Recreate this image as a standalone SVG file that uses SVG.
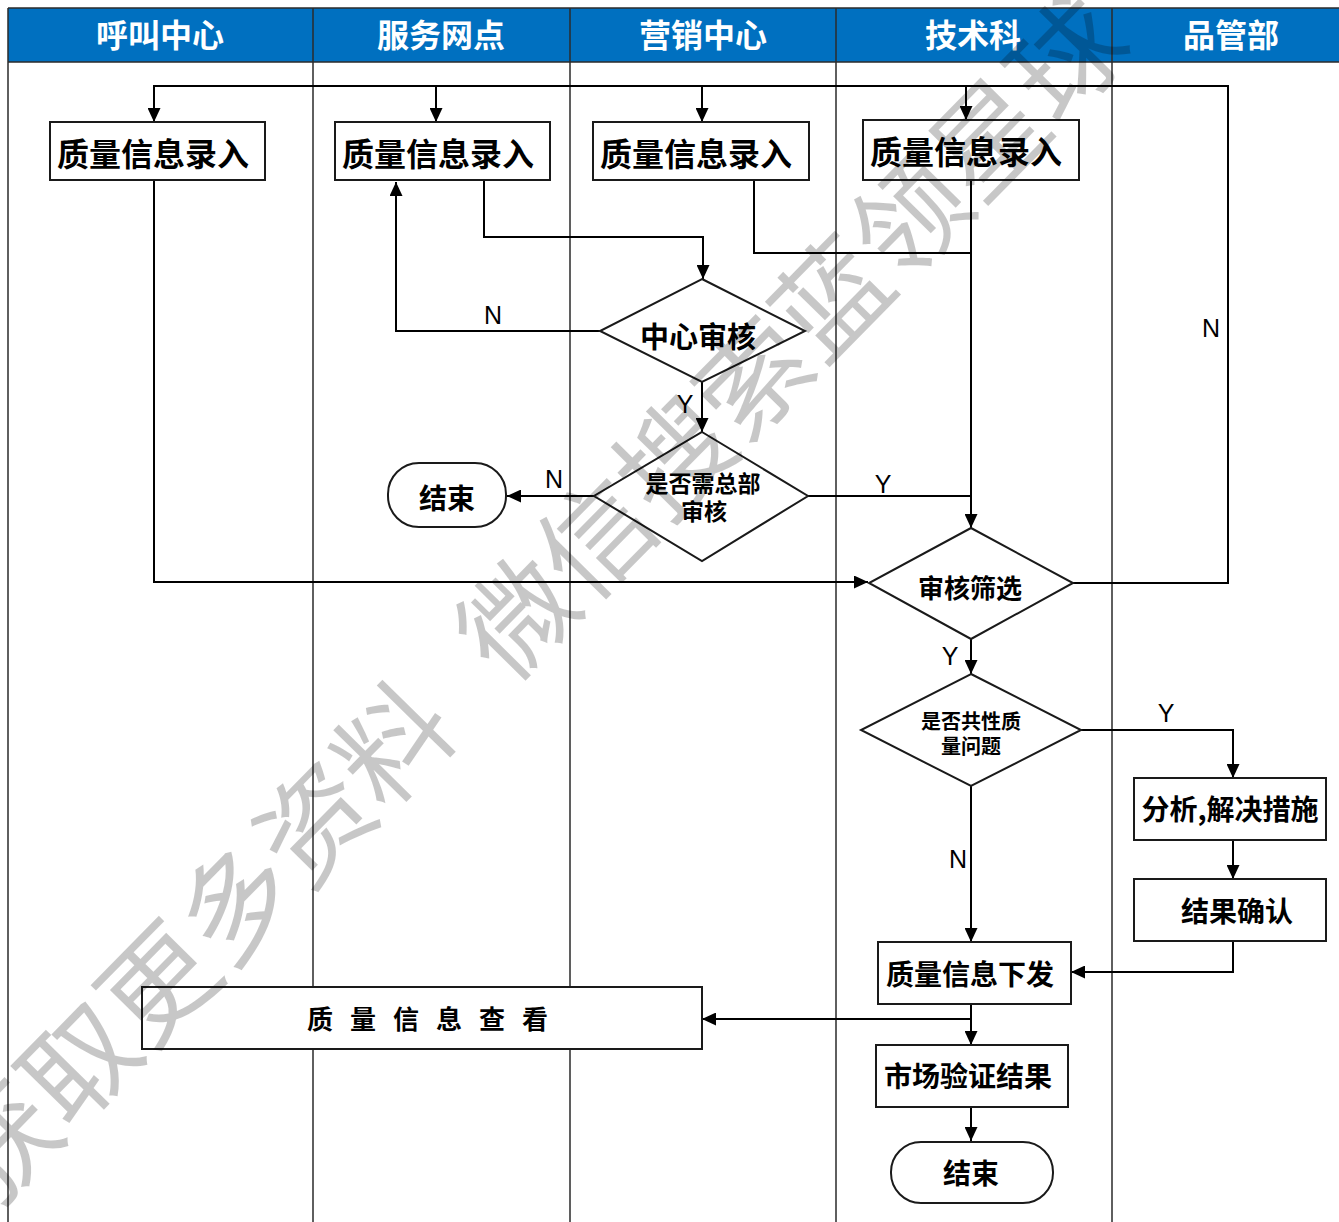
<svg xmlns="http://www.w3.org/2000/svg" width="1339" height="1222" viewBox="0 0 1339 1222">
<defs>
<style>
.lane{stroke:#2b2b2b;stroke-width:1.5;fill:none}
.hdr{fill:#0070C0}
.htxt{font-family:"Noto Sans CJK SC","Noto Sans",sans-serif;font-weight:bold;font-size:32px;fill:#fff;text-anchor:middle}
.box{fill:#fff;stroke:#1a1a1a;stroke-width:2}
.t{font-family:"Noto Sans CJK SC","Noto Sans",sans-serif;font-weight:bold;fill:#000;text-anchor:middle;dominant-baseline:central}
.c{fill:none;stroke:#000;stroke-width:2}
.ca{fill:none;stroke:#000;stroke-width:2;marker-end:url(#arr)}
.lbl{font-family:"Liberation Sans",Arial,sans-serif;font-size:25px;fill:#000;text-anchor:middle}
.wm{font-family:"Noto Sans CJK SC",sans-serif;font-size:112px;font-weight:400;fill:#000;fill-opacity:0.22}
</style>
<marker id="arr" viewBox="0 0 14 13" refX="14" refY="6.5" markerWidth="14" markerHeight="13" orient="auto" markerUnits="userSpaceOnUse"><path d="M0,0 L14,6.5 L0,13 z" fill="#000"/></marker>
</defs>
<rect width="1339" height="1222" fill="#fff"/>
<g id="lanes">
<rect class="hdr" x="8" y="8" width="1331" height="54"/>
<path class="lane" d="M8,8 H1339 M8,62 H1339 M8,8 V1222 M313,8 V1222 M570,8 V1222 M836,8 V1222 M1112,8 V1222"/>
<text class="htxt" x="160" y="47">呼叫中心</text>
<text class="htxt" x="441" y="47">服务网点</text>
<text class="htxt" x="703" y="47">营销中心</text>
<text class="htxt" x="973" y="47">技术科</text>
<text class="htxt" x="1231" y="47">品管部</text>
</g>
<g id="connectors">
<path class="ca" d="M1073,583 H1228 V86 H154 V122"/>
<path class="ca" d="M436,86 V122"/>
<path class="ca" d="M702,86 V122"/>
<path class="ca" d="M966,86 V120"/>
<path class="ca" d="M154,180 V582 H868"/>
<path class="ca" d="M484,180 V237 H703 V279"/>
<path class="c" d="M754,180 V253 H971"/>
<path class="ca" d="M971,180 V528"/>
<path class="ca" d="M600,331 H396 V182"/>
<path class="ca" d="M702,382 V432"/>
<path class="ca" d="M594,496 H507"/>
<path class="c" d="M808,496 H971"/>
<path class="ca" d="M971,639 V674"/>
<path class="ca" d="M1081,730 H1233 V778"/>
<path class="ca" d="M971,786 V942"/>
<path class="ca" d="M1233,840 V879"/>
<path class="ca" d="M1233,941 V972 H1071"/>
<path class="ca" d="M971,1004 V1045"/>
<path class="ca" d="M971,1019 H702"/>
<path class="ca" d="M971,1107 V1141"/>
<text class="lbl" x="493" y="324">N</text>
<text class="lbl" x="685" y="413">Y</text>
<text class="lbl" x="554" y="488">N</text>
<text class="lbl" x="883" y="493">Y</text>
<text class="lbl" x="1211" y="337">N</text>
<text class="lbl" x="950" y="665">Y</text>
<text class="lbl" x="1166" y="722">Y</text>
<text class="lbl" x="958" y="868">N</text>
</g>
<g id="n_input1"><rect class="box" x="50" y="122" width="215" height="58"/><text class="t" x="153" y="152" font-size="32">质量信息录入</text></g>
<g id="n_input2"><rect class="box" x="335" y="122" width="215" height="58"/><text class="t" x="438" y="152" font-size="32">质量信息录入</text></g>
<g id="n_input3"><rect class="box" x="593" y="122" width="216" height="58"/><text class="t" x="696" y="152" font-size="32">质量信息录入</text></g>
<g id="n_input4"><rect class="box" x="863" y="120" width="216" height="60"/><text class="t" x="966" y="150" font-size="32">质量信息录入</text></g>
<g id="n_center_review"><polygon class="box" points="702,279 805,331 702,382 600,331"/><text class="t" x="698" y="335" font-size="29">中心审核</text></g>
<g id="n_hq_review"><polygon class="box" points="702,432 808,496 702,561 594,496"/><text class="t" x="703" y="482" font-size="23">是否需总部</text><text class="t" x="704" y="510" font-size="23">审核</text></g>
<g id="n_end1"><rect class="box" x="388" y="463" width="118" height="64" rx="31" ry="31"/><text class="t" x="447" y="497" font-size="28">结束</text></g>
<g id="n_screen"><polygon class="box" points="971,528 1073,583 971,639 869,583"/><text class="t" x="970" y="586" font-size="26">审核筛选</text></g>
<g id="n_common"><polygon class="box" points="971,674 1081,730 971,786 861,730"/><text class="t" x="971" y="720" font-size="20">是否共性质</text><text class="t" x="971" y="745" font-size="20">量问题</text></g>
<g id="n_analyze"><rect class="box" x="1134" y="778" width="192" height="62"/><text class="t" x="1230" y="808" font-size="28">分析,解决措施</text></g>
<g id="n_confirm"><rect class="box" x="1134" y="879" width="192" height="62"/><text class="t" x="1237" y="910" font-size="28">结果确认</text></g>
<g id="n_issue"><rect class="box" x="878" y="942" width="193" height="62"/><text class="t" x="970" y="973" font-size="28">质量信息下发</text></g>
<g id="n_view"><rect class="box" x="142" y="987" width="560" height="62"/><text class="t" x="436" y="1017" font-size="26" letter-spacing="17">质量信息查看</text></g>
<g id="n_market"><rect class="box" x="876" y="1045" width="192" height="62"/><text class="t" x="968" y="1075" font-size="28">市场验证结果</text></g>
<g id="n_end2"><rect class="box" x="891" y="1142" width="162" height="61" rx="30" ry="30"/><text class="t" x="971" y="1172" font-size="28">结束</text></g>
<g id="watermark" transform="translate(512,612) rotate(-45.5)">
<text class="wm" x="-56" y="0" dominant-baseline="central">微信搜索蓝领星球</text>
<text class="wm" x="-121" y="0" dominant-baseline="central" text-anchor="end">获取更多资料</text>
</g>
</svg>
